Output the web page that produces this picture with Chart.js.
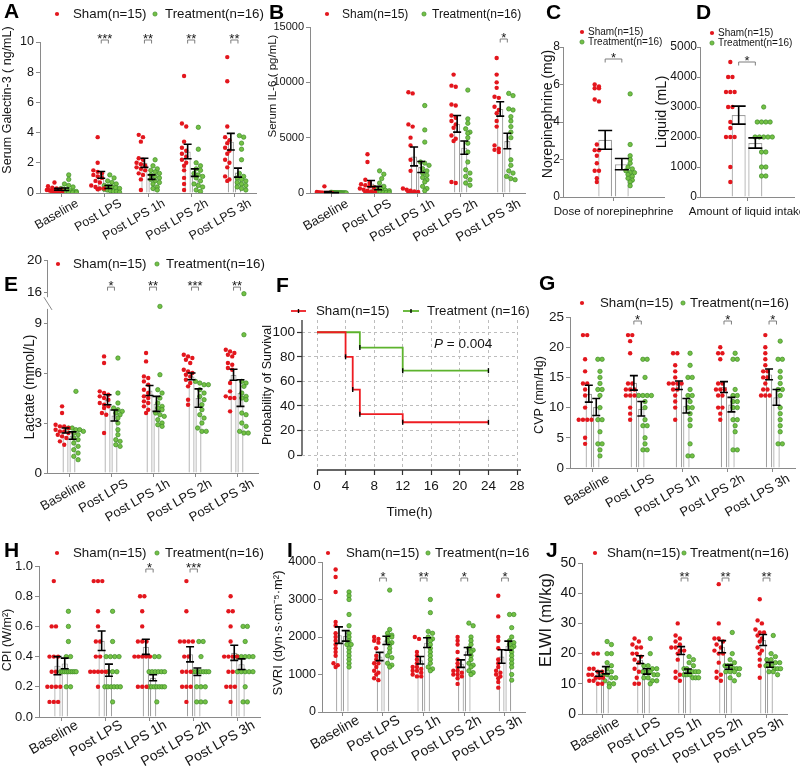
<!DOCTYPE html>
<html>
<head>
<meta charset="utf-8">
<script src="https://cdn.jsdelivr.net/npm/chart.js@4.4.1/dist/chart.umd.min.js"></script>
<style>
  body { margin: 0; background: #fff; width: 800px; height: 766px; overflow: hidden; position: relative; }
  canvas { position: absolute; }
  .tag { position: absolute; font: bold 21px 'Liberation Sans', Arial, sans-serif; line-height: 21px; color: #000; }
</style>
</head>
<body>
<canvas id="cF" width="272" height="270" style="left:258px;top:250px"></canvas>
<canvas id="cA" width="265" height="250" style="left:0;top:0"></canvas>
<canvas id="cB" width="268" height="250" style="left:262px;top:0"></canvas>
<canvas id="cD" width="165" height="250" style="left:650px;top:0"></canvas>
<canvas id="cC" width="165" height="250" style="left:520px;top:0"></canvas>
<canvas id="cE" width="265" height="285" style="left:0;top:250px"></canvas>
<canvas id="cG" width="270" height="285" style="left:530px;top:250px"></canvas>
<canvas id="cH" width="265" height="266" style="left:0;top:500px"></canvas>
<canvas id="cI" width="268" height="266" style="left:262px;top:500px"></canvas>
<canvas id="cJ" width="270" height="266" style="left:530px;top:500px"></canvas>
<div class="tag" style="left:4px;top:0">A</div>
<div class="tag" style="left:269px;top:1px">B</div>
<div class="tag" style="left:546px;top:1px">C</div>
<div class="tag" style="left:696px;top:1px">D</div>
<div class="tag" style="left:4px;top:273px">E</div>
<div class="tag" style="left:276px;top:274px">F</div>
<div class="tag" style="left:539px;top:272px">G</div>
<div class="tag" style="left:4px;top:539px">H</div>
<div class="tag" style="left:287px;top:539px">I</div>
<div class="tag" style="left:546px;top:539px">J</div>
<script>
const timeLabels = ['Baseline', 'Post LPS', 'Post LPS 1h', 'Post LPS 2h', 'Post LPS 3h'];

// A - serum galectin-3 (ng/mL)
const galSham = [
  [0.7, 0.45, 0.35, 0.3, 0.25, 0.2, 0.2, 0.15, 0.15, 0.1, 0.1, 0.1, 0.05, 0.05, 0.05],
  [3.7, 2.0, 1.5, 1.4, 1.3, 1.2, 1.1, 1.0, 0.8, 0.7, 0.5, 0.4, 0.3, 0.3, 0.25],
  [3.85, 3.7, 3.4, 2.3, 2.2, 2.0, 1.9, 1.8, 1.7, 1.6, 1.5, 1.3, 1.2, 0.9, 0.2],
  [7.75, 4.6, 4.4, 3.4, 3.0, 2.8, 2.6, 2.4, 2.2, 2.0, 1.8, 1.5, 1.0, 0.6, 0.2],
  [9.0, 7.4, 4.4, 3.7, 3.5, 3.3, 3.0, 2.8, 2.6, 2.2, 2.0, 1.7, 1.1, 0.9, 0.8]
];
const galTreat = [
  [1.2, 0.9, 0.6, 0.5, 0.4, 0.3, 0.25, 0.2, 0.15, 0.1, 0.1, 0.05, 0.05, 0.05, 0.02, 0.02],
  [1.2, 1.0, 0.8, 0.7, 0.6, 0.5, 0.45, 0.4, 0.35, 0.3, 0.25, 0.2, 0.15, 0.1, 0.1, 0.05],
  [2.2, 1.8, 1.6, 1.5, 1.4, 1.3, 1.2, 1.1, 1.0, 0.9, 0.8, 0.7, 0.6, 0.4, 0.3, 0.2],
  [4.35, 2.9, 2.0, 1.8, 1.6, 1.5, 1.3, 1.2, 1.1, 1.0, 0.8, 0.6, 0.5, 0.4, 0.2, 0.1],
  [3.8, 3.7, 3.3, 2.9, 2.2, 1.3, 1.1, 1.0, 0.9, 0.8, 0.7, 0.6, 0.5, 0.4, 0.3, 0.2]
];
const galShamMean = [0.25, 1.2, 2.0, 2.75, 3.4];
const galShamSem = [0.06, 0.22, 0.3, 0.48, 0.55];
const galTreatMean = [0.25, 0.4, 1.05, 1.35, 1.35];
const galTreatSem = [0.08, 0.1, 0.15, 0.25, 0.3];
const galSig = ['', '***', '**', '**', '**'];

// B - serum IL-6 (pg/mL)
const il6Sham = [
  [600, 100, 50, 50, 30, 20, 20, 10, 10, 10, 5, 5, 5, 5, 5],
  [3500, 2800, 1200, 900, 800, 700, 600, 500, 400, 300, 200, 150, 100, 50, 30],
  [9100, 9000, 6200, 6000, 5000, 4300, 3000, 2000, 400, 300, 200, 150, 100, 50, 30],
  [10700, 9700, 9600, 8000, 7900, 7000, 6800, 6500, 6200, 5900, 5200, 4900, 4700, 1000, 900],
  [12200, 10700, 10000, 9500, 8700, 8600, 7800, 7500, 7200, 6500, 6000, 4300, 4000, 3900, 3700]
];
const il6Treat = [
  [60, 50, 40, 40, 30, 30, 30, 20, 20, 20, 20, 10, 10, 10, 10, 5],
  [2000, 1700, 1300, 900, 600, 500, 400, 300, 250, 200, 150, 100, 100, 50, 50, 30],
  [7900, 5700, 4600, 2800, 2700, 2500, 2200, 2000, 1800, 1600, 1400, 1200, 1000, 600, 400, 200],
  [9300, 6700, 6300, 5800, 5500, 5400, 5000, 4500, 3700, 2800, 2100, 1800, 1500, 1200, 900, 700],
  [9000, 8800, 7600, 7500, 6900, 6500, 6000, 5500, 5000, 3000, 2500, 2000, 1800, 1500, 1300, 1200]
];
const il6ShamMean = [100, 850, 3300, 6250, 7600];
const il6ShamSem = [40, 280, 850, 750, 650];
const il6TreatMean = [30, 450, 2350, 4100, 4700];
const il6TreatSem = [10, 150, 500, 600, 700];
const il6Sig = ['', '', '', '', '*'];

// C - norepinephrine dose (mg)
const neLabels = ['Dose of norepinephrine'];
const neSham = [[6.0, 5.9, 5.8, 5.8, 5.2, 5.1, 2.8, 2.5, 2.5, 2.2, 1.8, 1.4, 1.4, 1.0, 0.8]];
const neTreat = [[5.5, 2.8, 2.2, 2.0, 1.8, 1.6, 1.5, 1.4, 1.3, 1.3, 1.2, 1.1, 1.0, 0.9, 0.8, 0.6]];
const neShamMean = [3.05];
const neShamSem = [0.5];
const neTreatMean = [1.75];
const neTreatSem = [0.3];
const neSig = ['*'];

// D - liquid intake (mL)
const liqLabels = ['Amount of liquid intake'];
const liqSham = [[4500, 4000, 4000, 3500, 3500, 3500, 3000, 3000, 2500, 2300, 2000, 2000, 2000, 1000, 500]];
const liqTreat = [[3000, 2500, 2500, 2500, 2500, 2000, 2000, 2000, 2000, 2000, 1500, 1500, 1000, 1000, 700, 700]];
const liqShamMean = [2730];
const liqShamSem = [300];
const liqTreatMean = [1800];
const liqTreatSem = [170];
const liqSig = ['*'];

// E - lactate (mmol/L), broken axis
const lacTicks = [0, 3, 6, 9, 16, 20];
const lacSham = [
  [4.0, 3.6, 2.9, 2.8, 2.8, 2.7, 2.6, 2.5, 2.5, 2.4, 2.3, 2.2, 2.1, 1.9, 1.7],
  [7.0, 6.6, 4.9, 4.8, 4.7, 4.6, 4.5, 4.4, 4.2, 4.1, 4.0, 3.9, 3.6, 3.5, 2.4],
  [7.2, 6.7, 5.8, 5.7, 5.5, 5.3, 5.0, 4.8, 4.6, 4.5, 4.3, 4.2, 4.0, 3.8, 3.6],
  [7.1, 7.0, 6.9, 6.8, 6.6, 6.2, 6.1, 6.0, 5.9, 5.8, 5.6, 5.4, 5.2, 4.4, 4.1],
  [7.4, 7.3, 7.2, 7.1, 7.0, 6.6, 6.5, 6.3, 6.2, 5.4, 4.9, 4.6, 4.5, 4.5, 3.7]
];
const lacTreat = [
  [4.9, 2.7, 2.7, 2.6, 2.6, 2.5, 2.4, 2.3, 2.1, 2.0, 1.8, 1.6, 1.4, 1.2, 1.0, 0.8],
  [6.9, 4.8, 4.2, 3.9, 3.8, 3.7, 3.6, 3.5, 3.3, 3.0, 2.6, 2.3, 2.0, 1.9, 1.7, 1.6],
  [10.0, 5.9, 5.0, 4.8, 4.5, 4.2, 4.0, 3.9, 3.8, 3.6, 3.5, 3.4, 3.2, 3.0, 2.9, 2.8],
  [5.5, 5.4, 5.3, 5.3, 5.0, 4.8, 4.6, 4.4, 4.1, 3.8, 3.5, 3.3, 3.0, 2.7, 2.5, 2.5],
  [15.8, 8.3, 5.5, 5.4, 5.2, 4.8, 4.6, 4.5, 4.4, 3.6, 3.5, 3.0, 2.8, 2.5, 2.4, 2.4]
];
const lacShamMean = [2.55, 4.4, 4.95, 5.8, 5.9];
const lacShamSem = [0.15, 0.3, 0.3, 0.2, 0.33];
const lacTreatMean = [2.25, 3.45, 4.15, 4.5, 4.8];
const lacTreatSem = [0.22, 0.33, 0.45, 0.55, 0.8];
const lacSig = ['', '*', '**', '***', '**'];

// F - survival (%)
const survShamT = [0, 4, 5, 6, 12, 24];
const survShamP = [100, 80, 53.3, 33.3, 26.7, 26.7];
const survTreatT = [0, 6, 12, 24];
const survTreatP = [100, 87.5, 68.75, 68.75];
const survXTicks = [0, 4, 8, 12, 16, 20, 24, 28];
const survYTicks = [0, 20, 40, 60, 80, 100];

// G - CVP (mm/Hg)
const cvpSham = [
  [22, 22, 18, 16, 14, 14, 13, 12, 10, 8, 8, 8, 8, 5, 4],
  [22, 22, 21, 19, 14, 14, 13, 13, 13, 12, 12, 12, 10, 9, 8],
  [19, 19, 17, 16, 15, 14, 14, 14, 14, 13, 13, 12, 11, 10, 8],
  [20, 19, 19, 18, 14, 14, 13, 13, 13, 12, 12, 10, 10, 9, 8],
  [22, 20, 19, 18, 17, 16, 16, 15, 15, 14, 13, 13, 12, 12, 12]
];
const cvpTreat = [
  [18, 18, 16, 15, 14, 13, 13, 12, 10, 8, 8, 6, 4, 4, 3, 2],
  [18, 18, 15, 12, 12, 12, 12, 11, 10, 8, 7, 7, 5, 4, 3, 3],
  [19, 17, 15, 15, 13, 12, 12, 11, 10, 10, 9, 8, 7, 4, 2, 2],
  [19, 18, 18, 13, 12, 12, 11, 11, 10, 10, 8, 8, 7, 6, 3, 3],
  [21, 18, 18, 16, 15, 14, 13, 13, 12, 10, 9, 8, 7, 6, 4, 4]
];
const cvpShamMean = [12.3, 14.1, 13.7, 13.4, 15.5];
const cvpShamSem = [1.4, 1.2, 0.7, 0.9, 0.9];
const cvpTreatMean = [10.1, 9.8, 10.3, 10.5, 11.7];
const cvpTreatSem = [1.4, 1.2, 1.2, 1.2, 1.3];
const cvpSig = ['', '*', '', '*', '*'];

// H - CPI (W/m2)
const cpiSham = [
  [0.9, 0.6, 0.6, 0.4, 0.4, 0.4, 0.3, 0.3, 0.2, 0.2, 0.2, 0.2, 0.1, 0.1, 0.1],
  [0.9, 0.9, 0.9, 0.7, 0.6, 0.5, 0.5, 0.4, 0.4, 0.3, 0.3, 0.3, 0.3, 0.3, 0.2],
  [0.8, 0.8, 0.7, 0.6, 0.5, 0.5, 0.5, 0.4, 0.4, 0.4, 0.4, 0.4, 0.2, 0.2, 0.2],
  [0.9, 0.7, 0.5, 0.5, 0.5, 0.5, 0.4, 0.4, 0.3, 0.3, 0.3, 0.2, 0.2, 0.2, 0.1],
  [0.8, 0.7, 0.7, 0.6, 0.5, 0.4, 0.4, 0.4, 0.4, 0.3, 0.3, 0.2, 0.2, 0.2, 0.1]
];
const cpiTreat = [
  [0.7, 0.6, 0.5, 0.4, 0.4, 0.3, 0.3, 0.3, 0.3, 0.3, 0.3, 0.3, 0.3, 0.3, 0.2, 0.2],
  [0.7, 0.5, 0.4, 0.4, 0.4, 0.4, 0.3, 0.3, 0.3, 0.2, 0.2, 0.2, 0.2, 0.2, 0.2, 0.1],
  [0.4, 0.4, 0.3, 0.3, 0.3, 0.3, 0.3, 0.3, 0.2, 0.2, 0.2, 0.2, 0.2, 0.2, 0.2, 0.1],
  [0.5, 0.5, 0.4, 0.3, 0.3, 0.3, 0.3, 0.3, 0.3, 0.3, 0.2, 0.2, 0.2, 0.1, 0.1, 0.1],
  [0.6, 0.6, 0.5, 0.4, 0.4, 0.4, 0.4, 0.4, 0.3, 0.3, 0.3, 0.3, 0.3, 0.2, 0.1, 0.1]
];
const cpiShamMean = [0.34, 0.505, 0.465, 0.415, 0.425];
const cpiShamSem = [0.06, 0.065, 0.05, 0.05, 0.05];
const cpiTreatMean = [0.355, 0.31, 0.26, 0.3, 0.35];
const cpiTreatSem = [0.035, 0.04, 0.02, 0.025, 0.035];
const cpiSig = ['', '', '*', '***', ''];

// I - SVRI
const svriSham = [
  [3800, 3600, 3200, 2400, 2300, 2100, 2000, 1900, 1800, 1700, 1600, 1500, 1300, 1250, 1200],
  [2000, 1950, 1900, 1850, 1700, 1500, 1400, 1300, 1300, 1200, 1100, 1050, 1000, 900, 850],
  [2000, 1950, 1600, 1500, 1400, 1300, 1200, 1200, 1150, 1100, 1100, 1050, 1000, 950, 950],
  [2000, 1900, 1800, 1600, 1400, 1300, 1200, 1100, 1100, 1050, 1000, 1000, 950, 900, 750],
  [3100, 2550, 2000, 1900, 1700, 1400, 1300, 1200, 1100, 1050, 1000, 950, 900, 800, 650]
];
const svriTreat = [
  [3200, 3100, 3000, 2600, 2300, 2100, 2000, 1900, 1800, 1800, 1700, 1600, 1500, 1400, 1300, 1200],
  [3250, 2200, 2100, 2050, 2000, 2000, 1900, 1850, 1800, 1700, 1600, 1500, 1450, 1300, 1250, 1200],
  [3000, 2650, 2150, 2100, 2000, 1950, 1900, 1800, 1700, 1600, 1500, 1400, 1300, 1200, 1150, 1100],
  [2370, 2300, 2000, 1900, 1800, 1700, 1650, 1600, 1500, 1400, 1300, 1250, 1200, 1100, 1050, 1000],
  [2600, 2600, 2250, 2000, 1900, 1850, 1800, 1750, 1700, 1600, 1500, 1400, 1300, 1200, 1000, 850]
];
const svriShamMean = [2050, 1480, 1380, 1290, 1480];
const svriShamSem = [220, 110, 100, 100, 180];
const svriTreatMean = [2030, 1910, 1850, 1620, 1770];
const svriTreatSem = [140, 110, 130, 100, 120];
const svriSig = ['', '*', '**', '*', '*'];

// J - ELWI (ml/kg)
const elwiSham = [
  [20, 20, 15, 15, 14, 14, 13, 13, 12, 12, 12, 11, 11, 10, 10],
  [25, 24, 23, 22, 22, 20, 20, 19, 18, 17, 15, 14, 12, 10, 10],
  [30, 26, 25, 24, 23, 22, 22, 21, 21, 20, 18, 14, 13, 12, 11],
  [43, 30, 25, 25, 24, 23, 22, 21, 20, 20, 17, 14, 13, 12, 11],
  [38, 31, 30, 28, 27, 27, 26, 25, 24, 22, 21, 20, 18, 16, 12]
];
const elwiTreat = [
  [24, 23, 20, 20, 17, 16, 15, 14, 13, 13, 12, 12, 11, 10, 10, 9],
  [25, 20, 16, 16, 15, 15, 14, 14, 14, 13, 13, 12, 12, 11, 11, 10],
  [19, 18, 17, 16, 15, 15, 14, 14, 14, 14, 13, 13, 13, 12, 12, 12],
  [27, 20, 18, 17, 16, 16, 16, 15, 15, 15, 14, 14, 14, 13, 12, 11],
  [26, 20, 19, 18, 18, 17, 17, 16, 16, 16, 15, 15, 15, 14, 14, 13]
];
const elwiShamMean = [13.3, 18.0, 21.0, 22.3, 24.5];
const elwiShamSem = [0.8, 1.3, 1.3, 2.0, 1.8];
const elwiTreatMean = [14.5, 14.1, 14.2, 15.5, 16.3];
const elwiTreatSem = [1.2, 0.9, 0.7, 0.7, 0.8];
const elwiSig = ['', '', '**', '**', '**'];

const FONT = "'Liberation Sans', Arial, sans-serif";
const RED = '#e3161d';
const GREEN = '#74c145';
const GREEN_EDGE = '#3e8c28';
const BAR_EDGE = '#a0a0a0';
const AXIS = '#8a8a8a';
const INK = '#151515';
Chart.defaults.font.family = FONT;

// spread equal-ish values sideways in rows (px offsets)
function swarmOffsets(pys, halfMax) {
  const d = 4.3;
  const order = pys.map((v, i) => i).sort((a, b) => pys[b] - pys[a]);
  const offs = new Array(pys.length).fill(0);
  let row = [];
  const flush = () => {
    const m = row.length;
    let gap = d;
    if (m > 1 && (m - 1) * d / 2 > halfMax) gap = 2 * halfMax / (m - 1);
    row.forEach((i, k) => { offs[i] = (k - (m - 1) / 2) * gap; });
    row = [];
  };
  order.forEach(i => {
    if (row.length && pys[row[0]] - pys[i] >= d * 0.85) flush();
    row.push(i);
  });
  flush();
  return offs;
}

function drawYTitle(ctx, text, pos, size) {
  ctx.save();
  ctx.translate(pos[0], pos[1]);
  ctx.rotate(-Math.PI / 2);
  ctx.font = size + 'px ' + FONT;
  ctx.fillStyle = INK;
  ctx.textAlign = 'center';
  ctx.textBaseline = 'middle';
  ctx.fillText(text, 0, 0);
  ctx.restore();
}

function drawLegend(ctx, lg) {
  ctx.font = (lg.size || 13.3) + 'px ' + FONT;
  ctx.textBaseline = 'middle';
  ctx.textAlign = 'left';
  const names = ['Sham(n=15)', 'Treatment(n=16)'];
  lg.items.forEach((it, k) => {
    const y = it[2] !== undefined ? it[2] : lg.y;
    ctx.beginPath();
    ctx.arc(it[0], y, 2.1, 0, Math.PI * 2);
    ctx.fillStyle = k ? GREEN : RED;
    ctx.fill();
    if (k) { ctx.strokeStyle = GREEN_EDGE; ctx.lineWidth = 0.7; ctx.stroke(); }
    ctx.fillStyle = INK;
    ctx.fillText(names[k], it[1], y + 0.5);
  });
}

function barPanel(id, p) {
  const n = p.labels.length;
  const tf = p.tf || (v => v);
  const canvas = document.getElementById(id);
  const W = canvas.width, H = canvas.height, A = p.plot;
  const cp = p.cp || 0.66, bp = p.bp || 0.86;
  const catPx = (A.r - A.l) / n;
  const unitPx = (A.b - A.t) / (p.yMax - p.yMin);
  const halfBar = catPx * cp / 4 * bp;
  const cap = p.cap || 4;
  const pts = (groups, side) => {
    const out = [];
    groups.forEach((vals, i) => {
      const offs = swarmOffsets(vals.map(v => tf(v) * unitPx), halfBar + 1.5);
      vals.forEach((v, j) => out.push({ x: i + side * cp / 4 + offs[j] / catPx, y: tf(v) }));
    });
    return out;
  };

  const decor = {
    id: 'decor',
    afterDatasetsDraw(chart) {
      const ctx = chart.ctx, xa = chart.scales.x, ya = chart.scales.y, ca = chart.chartArea;
      const mS = chart.getDatasetMeta(2), mT = chart.getDatasetMeta(3);
      ctx.save();
      // mean +/- SEM
      ctx.strokeStyle = '#000';
      ctx.lineWidth = 1.6;
      [[mS, p.shamMean, p.shamSem], [mT, p.treatMean, p.treatSem]].forEach(([meta, m, s]) => {
        meta.data.forEach((bar, i) => {
          const x = bar.x;
          const y1 = ya.getPixelForValue(tf(m[i] + s[i]));
          const y2 = ya.getPixelForValue(tf(Math.max(m[i] - s[i], 0)));
          ctx.beginPath();
          ctx.moveTo(x, y1); ctx.lineTo(x, y2);
          ctx.moveTo(x - cap, y1); ctx.lineTo(x + cap, y1);
          ctx.moveTo(x - cap, y2); ctx.lineTo(x + cap, y2);
          ctx.stroke();
        });
      });
      // significance brackets
      ctx.lineWidth = 1;
      ctx.strokeStyle = '#7d7d7d';
      ctx.fillStyle = INK;
      ctx.font = '13px ' + FONT;
      ctx.textAlign = 'center';
      ctx.textBaseline = 'alphabetic';
      p.sig.forEach((s, i) => {
        if (!s) return;
        const x1 = mS.data[i].x, x2 = mT.data[i].x, y = ca.top + p.sigOff;
        ctx.beginPath();
        ctx.moveTo(x1, y + 3.5); ctx.lineTo(x1, y); ctx.lineTo(x2, y); ctx.lineTo(x2, y + 3.5);
        ctx.stroke();
        ctx.fillText(s, (x1 + x2) / 2, y + 2.5);
      });
      // single category name written under the axis
      if (p.xText) {
        ctx.font = p.xFont + 'px ' + FONT;
        ctx.textBaseline = 'middle';
        ctx.fillText(p.labels[0], xa.getPixelForValue(0), p.xText);
      }
      // broken y axis
      if (p.yBreak) {
        const lo = ya.getPixelForValue(p.yBreak[0]), hi = ya.getPixelForValue(p.yBreak[1]);
        const x = ca.left - 0.5;
        ctx.strokeStyle = AXIS;
        ctx.beginPath();
        ctx.moveTo(x, ca.bottom); ctx.lineTo(x, lo);
        ctx.moveTo(x, hi); ctx.lineTo(x, ca.top);
        ctx.moveTo(x - 3.5, hi); ctx.lineTo(x + 4.5, lo + 1);
        ctx.stroke();
      }
      drawYTitle(ctx, p.title, p.yt, p.titleSize);
      drawLegend(ctx, p.legend);
      ctx.restore();
    }
  };

  const yTicks = {
    color: INK, font: { size: p.yFont }, autoSkip: false, z: 1,
    padding: p.yPad !== undefined ? p.yPad : 2, callback: p.tickFmt || (v => String(v))
  };
  if (p.step) yTicks.stepSize = p.step;
  const yScale = {
    min: p.yMin, max: p.yMax,
    grid: { drawOnChartArea: false, tickLength: p.yTickLen || 4, color: AXIS },
    border: { color: AXIS, display: !p.yBreak },
    ticks: yTicks,
    afterFit: s => { s.width = A.l; }
  };
  if (p.yTickVals) yScale.afterBuildTicks = s => { s.ticks = p.yTickVals.map(v => ({ value: tf(v) })); };

  new Chart(canvas, {
    type: 'bar',
    data: {
      labels: p.labels,
      datasets: [
        { type: 'scatter', xAxisID: 'xs', data: pts(p.sham, -1), pointRadius: 2.2, backgroundColor: RED, borderColor: RED, borderWidth: 0 },
        { type: 'scatter', xAxisID: 'xs', data: pts(p.treat, 1), pointRadius: 2.2, backgroundColor: GREEN, borderColor: GREEN_EDGE, borderWidth: 0.7 },
        { type: 'bar', data: p.shamMean.map(tf), backgroundColor: '#fff', borderColor: BAR_EDGE, borderWidth: 1.2, categoryPercentage: cp, barPercentage: bp },
        { type: 'bar', data: p.treatMean.map(tf), backgroundColor: '#fff', borderColor: BAR_EDGE, borderWidth: 1.2, categoryPercentage: cp, barPercentage: bp }
      ]
    },
    options: {
      responsive: false, animation: false, devicePixelRatio: 1, events: [],
      layout: { padding: { left: 0, top: A.t, right: W - A.r, bottom: 0 } },
      plugins: { legend: { display: false }, tooltip: { enabled: false } },
      scales: {
        x: {
          type: 'category', offset: true,
          grid: { drawOnChartArea: false, offset: false, tickLength: 4, color: AXIS },
          border: { color: AXIS },
          ticks: {
            display: !p.xText,
            color: INK, font: { size: p.xFont || 12.5 }, autoSkip: false,
            maxRotation: p.rot, minRotation: p.rot, padding: p.xPad !== undefined ? p.xPad : -1,
            labelOffset: p.rot ? 16 : 0
          },
          afterFit: s => { s.height = H - A.b; }
        },
        xs: { type: 'linear', display: false, offset: false, grid: { offset: false }, min: -0.5, max: n - 0.5 },
        y: yScale
      }
    },
    plugins: [decor]
  });
}

const lacTf = v => (v <= 12 ? v : 10.86 + (v - 16) * 0.48);

barPanel('cA', {
  labels: timeLabels, sham: galSham, treat: galTreat,
  shamMean: galShamMean, shamSem: galShamSem, treatMean: galTreatMean, treatSem: galTreatSem, sig: galSig,
  plot: { l: 40, t: 42, r: 256, b: 193 }, yMin: 0, yMax: 10, step: 2, yFont: 12.5,
  title: 'Serum Galectin-3 ( ng/mL)', yt: [8, 100], titleSize: 12.5, rot: 30, xFont: 12.5, sigOff: -2,
  legend: { y: 14, items: [[57, 73], [155, 165]] }
});
barPanel('cB', {
  labels: timeLabels, sham: il6Sham, treat: il6Treat,
  shamMean: il6ShamMean, shamSem: il6ShamSem, treatMean: il6TreatMean, treatSem: il6TreatSem, sig: il6Sig,
  plot: { l: 48, t: 27, r: 265, b: 193 }, yMin: 0, yMax: 15000, step: 5000, yFont: 11,
  title: 'Serum IL-6 ( pg/mL)', yt: [11, 86], titleSize: 11.5, rot: 30, xFont: 13, sigOff: 12,
  legend: { y: 14, size: 12, items: [[65, 80], [162, 170]] }
});
barPanel('cC', {
  labels: neLabels, sham: neSham, treat: neTreat,
  shamMean: neShamMean, shamSem: neShamSem, treatMean: neTreatMean, treatSem: neTreatSem, sig: neSig,
  plot: { l: 43, t: 47, r: 144, b: 197 }, yMin: 0, yMax: 8, step: 2, cp: 0.66, bp: 0.82, cap: 7,
  yFont: 12, yTickLen: 3, yPad: 0,
  title: 'Norepinephrine (mg)', yt: [28, 114], titleSize: 14, rot: 0, xFont: 11.5, xText: 212, sigOff: 12,
  legend: { size: 10, items: [[62, 68, 32], [62, 68, 42]] }
});
barPanel('cD', {
  labels: liqLabels, sham: liqSham, treat: liqTreat,
  shamMean: liqShamMean, shamSem: liqShamSem, treatMean: liqTreatMean, treatSem: liqTreatSem, sig: liqSig,
  plot: { l: 50, t: 47, r: 144, b: 197 }, yMin: 0, yMax: 5000, step: 1000, cp: 0.71, bp: 0.84, cap: 7,
  yFont: 12, yTickLen: 3, yPad: 0,
  title: 'Liquid (mL)', yt: [12, 112], titleSize: 14.5, rot: 0, xFont: 11.5, xText: 212, sigOff: 15,
  legend: { size: 10, items: [[62, 68, 33], [62, 68, 43]] }
});
barPanel('cE', {
  labels: timeLabels, sham: lacSham, treat: lacTreat,
  shamMean: lacShamMean, shamSem: lacShamSem, treatMean: lacTreatMean, treatSem: lacTreatSem, sig: lacSig,
  plot: { l: 48, t: 10, r: 258, b: 223 }, yMin: 0, yMax: lacTf(20), tf: lacTf, yTickVals: lacTicks, yFont: 13.5,
  tickFmt: v => { const t = lacTicks.find(k => Math.abs(lacTf(k) - v) < 1e-6); return t === undefined ? '' : String(t); },
  yBreak: [9.85, 10.55],
  title: 'Lactate (mmol/L)', yt: [30, 137], titleSize: 14, rot: 30, xFont: 13, sigOff: 27,
  legend: { y: 14, items: [[58, 73], [157, 166]] }
});
barPanel('cG', {
  labels: timeLabels, sham: cvpSham, treat: cvpTreat,
  shamMean: cvpShamMean, shamSem: cvpShamSem, treatMean: cvpTreatMean, treatSem: cvpTreatSem, sig: cvpSig,
  plot: { l: 40, t: 67, r: 267, b: 218 }, yMin: 0, yMax: 25, step: 5, yFont: 13.5,
  title: 'CVP (mm/Hg)', yt: [10, 145], titleSize: 12.5, rot: 30, xFont: 13, sigOff: 4,
  legend: { y: 53, items: [[52, 70], [153, 160]] }
});
barPanel('cH', {
  labels: timeLabels, sham: cpiSham, treat: cpiTreat,
  shamMean: cpiShamMean, shamSem: cpiShamSem, treatMean: cpiTreatMean, treatSem: cpiTreatSem, sig: cpiSig,
  plot: { l: 39, t: 66, r: 260, b: 217 }, yMin: 0, yMax: 1, step: 0.2, tickFmt: v => v.toFixed(1), yFont: 13,
  title: 'CPI (W/m²)', yt: [8, 140], titleSize: 12.5, rot: 30, xFont: 14, xPad: -4, sigOff: 3,
  legend: { y: 53, items: [[57, 73], [157, 165]] }
});
barPanel('cI', {
  labels: timeLabels, sham: svriSham, treat: svriTreat,
  shamMean: svriShamMean, shamSem: svriShamSem, treatMean: svriTreatMean, treatSem: svriTreatSem, sig: svriSig,
  plot: { l: 60, t: 62, r: 265, b: 212 }, yMin: 0, yMax: 4000, step: 1000, yFont: 12.5,
  title: 'SVRI (dyn·s·cm⁻⁵·m²)', yt: [16, 133], titleSize: 13, rot: 30, xFont: 14, xPad: -4, sigOff: 16,
  legend: { y: 53, items: [[66, 84], [166, 173]] }
});
barPanel('cJ', {
  labels: timeLabels, sham: elwiSham, treat: elwiTreat,
  shamMean: elwiShamMean, shamSem: elwiShamSem, treatMean: elwiTreatMean, treatSem: elwiTreatSem, sig: elwiSig,
  plot: { l: 52, t: 63, r: 257, b: 214 }, yMin: 0, yMax: 50, step: 10, yFont: 14,
  title: 'ELWI (ml/kg)', yt: [16, 120], titleSize: 16.5, rot: 30, xFont: 14, xPad: -4, sigOff: 15,
  legend: { y: 53, items: [[65, 77], [154, 160]] }
});

// F - Kaplan-Meier survival
(function () {
  const canvas = document.getElementById('cF');
  const W = canvas.width, H = canvas.height;
  const A = { l: 44, t: 70, r: 259, b: 220 };
  const SURV_RED = '#ee1c22', SURV_GREEN = '#5db32d';
  const survSet = (ts, ps, color) => ({
    data: ts.map((t, i) => ({ x: t, y: ps[i] })),
    borderColor: color, borderWidth: 1.8, stepped: true, fill: false,
    pointStyle: 'line', rotation: 90, pointRadius: ts.map((t, i) => (i ? 2.5 : 0)),
    pointBorderColor: '#000', pointBackgroundColor: '#000', pointBorderWidth: 1.4
  });
  const decor = {
    id: 'survDecor',
    afterDraw(chart) {
      const ctx = chart.ctx, xa = chart.scales.x, ya = chart.scales.y, ca = chart.chartArea;
      ctx.save();
      ctx.strokeStyle = '#333';
      ctx.lineWidth = 1.3;
      ctx.beginPath();
      ctx.moveTo(ca.left, ya.getPixelForValue(0)); ctx.lineTo(ca.left, ca.top);
      ctx.moveTo(xa.getPixelForValue(0), ca.bottom); ctx.lineTo(ca.right + 4, ca.bottom);
      ctx.stroke();
      drawYTitle(ctx, 'Probability of Survival', [10, 135], 12.5);
      // legend
      ctx.font = '13.3px ' + FONT;
      ctx.textBaseline = 'middle';
      ctx.textAlign = 'left';
      [[33, 48, 58, SURV_RED, 'Sham(n=15)'], [145, 161, 169, SURV_GREEN, 'Treatment (n=16)']].forEach(([a, b, tx, c, txt]) => {
        ctx.strokeStyle = c; ctx.lineWidth = 1.8;
        ctx.beginPath(); ctx.moveTo(a, 61); ctx.lineTo(b, 61); ctx.stroke();
        ctx.strokeStyle = '#000'; ctx.lineWidth = 1.4;
        ctx.beginPath(); ctx.moveTo((a + b) / 2, 59); ctx.lineTo((a + b) / 2, 63); ctx.stroke();
        ctx.fillStyle = INK;
        ctx.fillText(txt, tx, 61.5);
      });
      ctx.font = 'italic 13.5px ' + FONT;
      ctx.fillText('P', 176, 94.5);
      const pw = ctx.measureText('P').width;
      ctx.font = '13.5px ' + FONT;
      ctx.fillText(' = 0.004', 176 + pw, 94.5);
      ctx.restore();
    }
  };
  new Chart(canvas, {
    type: 'line',
    data: { datasets: [survSet(survShamT, survShamP, SURV_RED), survSet(survTreatT, survTreatP, SURV_GREEN)] },
    options: {
      responsive: false, animation: false, devicePixelRatio: 1, events: [],
      layout: { padding: { left: 0, top: A.t, right: W - A.r, bottom: 0 } },
      plugins: { legend: { display: false }, tooltip: { enabled: false } },
      scales: {
        x: {
          type: 'linear', min: -2.1, max: 28,
          afterBuildTicks: s => { s.ticks = survXTicks.map(v => ({ value: v })); },
          grid: { color: '#bdbdbd', tickColor: '#333', tickLength: 5, tickWidth: 1.2 },
          border: { display: false, dash: [3, 3] },
          ticks: { color: INK, font: { size: 13.5 }, padding: 3, autoSkip: false },
          title: { display: true, text: 'Time(h)', color: INK, font: { size: 13.5 }, padding: { top: 0, bottom: 0 } },
          afterFit: s => { s.height = H - A.b; }
        },
        y: {
          type: 'linear', min: -12.2, max: 110,
          afterBuildTicks: s => { s.ticks = survYTicks.map(v => ({ value: v })); },
          grid: { color: '#bdbdbd', tickColor: '#333', tickLength: 5, tickWidth: 1.2 },
          border: { display: false, dash: [3, 3] },
          ticks: { color: INK, font: { size: 13.5 }, padding: 2, autoSkip: false },
          afterFit: s => { s.width = A.l; }
        }
      }
    },
    plugins: [decor]
  });
})();
</script>
</body>
</html>
